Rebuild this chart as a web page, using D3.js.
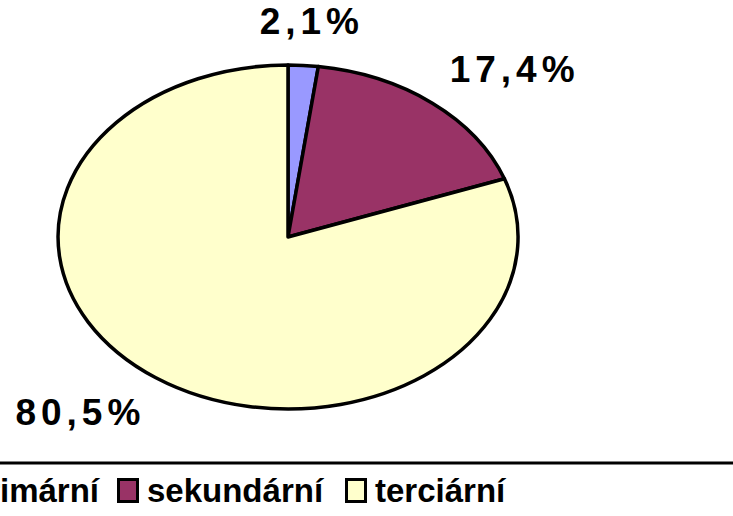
<!DOCTYPE html>
<html>
<head>
<meta charset="utf-8">
<script src="https://cdn.jsdelivr.net/npm/d3@7"></script>
<style>
  body { margin: 0; background: #fff; }
  svg { display: block; }
</style>
</head>
<body>
<div id="chart"></div>
<script>
// data
var categories = ["primární", "sekundární", "terciární"];
var values = [2.1, 17.4, 80.5];
var labels = ["2,1%", "17,4%", "80,5%"];
var colors = ["#9999FF", "#993366", "#FFFFCC"];

var width = 733, height = 516;
var cx = 288, cy = 237, rx = 230, ry = 172;

var svg = d3.select("#chart")
  .append("svg")
    .attr("width", width)
    .attr("height", height);

var data = categories.map(function(c, i) {
  return {name: c, value: values[i], label: labels[i], color: colors[i]};
});

var pie = d3.pie()
  .sort(null)
  .value(function(d) { return d.value; });

var arcs = pie(data);

// unit arc, stretched to an ellipse
var arc = d3.arc().innerRadius(0).outerRadius(1);
var labelArc = d3.arc().innerRadius(1).outerRadius(1);

var g = svg.append("g")
  .attr("transform", "translate(" + cx + "," + cy + ") scale(" + rx + "," + ry + ")");

g.selectAll("path")
  .data(arcs)
  .enter().append("path")
    .attr("d", arc)
    .attr("fill", function(d) { return d.data.color; })
    .attr("stroke", "#000")
    .attr("stroke-width", 3.5)
    .attr("stroke-linejoin", "round")
    .attr("vector-effect", "non-scaling-stroke");

// percent labels outside the slices
svg.selectAll(".lbl")
  .data(arcs)
  .enter().append("text")
    .attr("class", "lbl")
    .attr("x", function(d) { return cx + labelArc.centroid(d)[0] * rx * 1.57; })
    .attr("y", function(d) { return cy + labelArc.centroid(d)[1] * ry * 1.25 + 12; })
    .attr("text-anchor", "middle")
    .style("font-family", "'Liberation Sans', Arial, sans-serif")
    .style("font-weight", "bold")
    .style("font-size", "37px")
    .style("letter-spacing", "5px")
    .text(function(d) { return d.data.label; });

// legend (its box runs past the picture edges)
svg.append("rect")
  .attr("x", -100)
  .attr("y", 463)
  .attr("width", 1000)
  .attr("height", 200)
  .attr("fill", "#fff")
  .attr("stroke", "#000")
  .attr("stroke-width", 3);

var legendX = d3.scaleOrdinal()
  .domain(categories)
  .range([-63, 117, 345]);

var item = svg.selectAll(".leg")
  .data(data)
  .enter().append("g")
    .attr("class", "leg")
    .attr("transform", function(d) { return "translate(" + legendX(d.name) + ",0)"; });

item.append("rect")
  .attr("x", 1.5)
  .attr("y", 479.5)
  .attr("width", 19)
  .attr("height", 22)
  .attr("fill", function(d) { return d.color; })
  .attr("stroke", "#000")
  .attr("stroke-width", 3);

item.append("text")
  .attr("x", 30)
  .attr("y", 502)
  .style("font-family", "'Liberation Sans', Arial, sans-serif")
  .style("font-weight", "bold")
  .style("font-size", "33px")
  .text(function(d) { return d.name; });
</script>
</body>
</html>
